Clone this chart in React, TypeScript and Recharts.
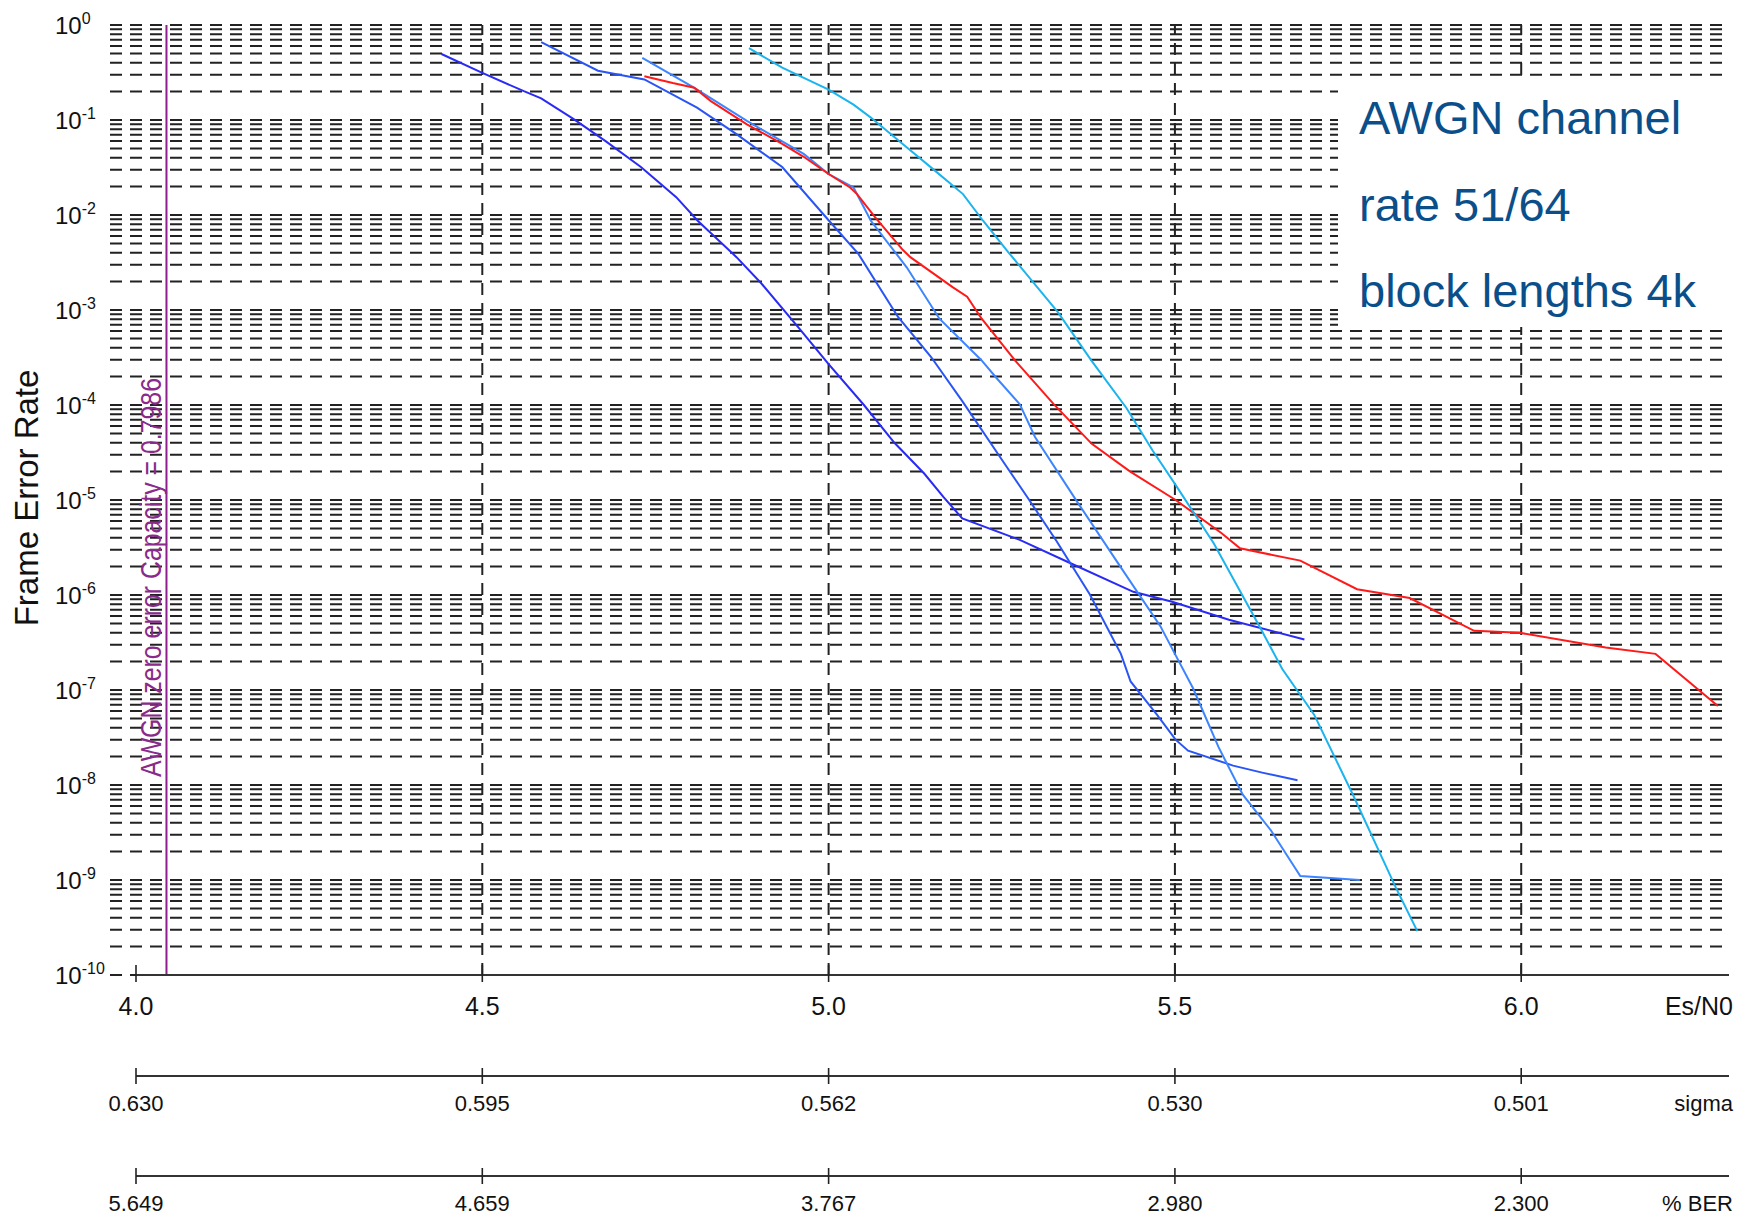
import React from 'react';
import { LineChart, Line, XAxis, YAxis, CartesianGrid, ReferenceLine } from 'recharts';

// ---- tick labels / axes ----
const esn0Ticks = [4.0, 4.5, 5.0, 5.5, 6.0];
const esn0Labels = ['4.0', '4.5', '5.0', '5.5', '6.0'];
const sigmaLabels = ['0.630', '0.595', '0.562', '0.530', '0.501'];
const berLabels = ['5.649', '4.659', '3.767', '2.980', '2.300'];
const decadeExponents = [-1, -2, -3, -4, -5, -6, -7, -8, -9, -10];
const mantissas = [1, 2, 3, 4, 5, 6, 7, 8, 9];
const capacityEsN0 = 4.044;
const capacityText = 'AWGN zero error Capacity = 0.7986';
const noteLines = ['AWGN channel', 'rate 51/64', 'block lengths 4k'];

// ---- series (Es/N0, frame error rate) ----
const curveA = [
  { es: 4.441, fer: 0.495 }, { es: 4.5, fer: 0.313 }, { es: 4.56, fer: 0.201 },
  { es: 4.585, fer: 0.169 }, { es: 4.632, fer: 0.102 }, { es: 4.678, fer: 0.06 },
  { es: 4.729, fer: 0.032 }, { es: 4.78, fer: 0.0154 }, { es: 4.811, fer: 0.0087 },
  { es: 4.867, fer: 0.0036 }, { es: 4.903, fer: 0.0019 }, { es: 4.959, fer: 6.2e-4 },
  { es: 5.0, fer: 2.7e-4 }, { es: 5.051, fer: 1.0e-4 }, { es: 5.095, fer: 4.0e-5 },
  { es: 5.138, fer: 1.9e-5 }, { es: 5.166, fer: 1.07e-5 }, { es: 5.193, fer: 6.4e-6 },
  { es: 5.276, fer: 3.8e-6 }, { es: 5.347, fer: 2.2e-6 }, { es: 5.44, fer: 1.08e-6 },
  { es: 5.496, fer: 8.5e-7 }, { es: 5.578, fer: 5.5e-7 }, { es: 5.687, fer: 3.4e-7 },
];
const curveB = [
  { es: 4.585, fer: 0.66 }, { es: 4.667, fer: 0.33 }, { es: 4.734, fer: 0.267 },
  { es: 4.81, fer: 0.135 }, { es: 4.867, fer: 0.071 }, { es: 4.933, fer: 0.032 },
  { es: 5.0, fer: 0.0088 }, { es: 5.043, fer: 0.0039 }, { es: 5.1, fer: 8.5e-4 },
  { es: 5.148, fer: 3.2e-4 }, { es: 5.193, fer: 1.1e-4 }, { es: 5.248, fer: 2.8e-5 },
  { es: 5.287, fer: 1.07e-5 }, { es: 5.329, fer: 3.7e-6 }, { es: 5.377, fer: 1.02e-6 },
  { es: 5.422, fer: 2.4e-7 }, { es: 5.436, fer: 1.23e-7 }, { es: 5.474, fer: 5.5e-8 },
  { es: 5.501, fer: 3.0e-8 }, { es: 5.519, fer: 2.3e-8 }, { es: 5.584, fer: 1.6e-8 },
  { es: 5.626, fer: 1.35e-8 }, { es: 5.677, fer: 1.12e-8 },
];
const curveC = [
  { es: 4.731, fer: 0.45 }, { es: 4.805, fer: 0.22 }, { es: 4.882, fer: 0.098 },
  { es: 4.964, fer: 0.044 }, { es: 5.0, fer: 0.027 }, { es: 5.036, fer: 0.0195 },
  { es: 5.061, fer: 0.0087 }, { es: 5.113, fer: 0.0028 }, { es: 5.16, fer: 8.1e-4 },
  { es: 5.22, fer: 3.0e-4 }, { es: 5.243, fer: 1.9e-4 }, { es: 5.276, fer: 1.02e-4 },
  { es: 5.298, fer: 4.6e-5 }, { es: 5.358, fer: 9.8e-6 }, { es: 5.419, fer: 2.1e-6 },
  { es: 5.479, fer: 4.7e-7 }, { es: 5.5, fer: 2.4e-7 }, { es: 5.526, fer: 1.05e-7 },
  { es: 5.563, fer: 2.5e-8 }, { es: 5.598, fer: 7.9e-9 }, { es: 5.639, fer: 3.3e-9 },
  { es: 5.681, fer: 1.1e-9 }, { es: 5.767, fer: 1.0e-9 },
];
const curveRed = [
  { es: 4.734, fer: 0.289 }, { es: 4.775, fer: 0.245 }, { es: 4.806, fer: 0.219 },
  { es: 4.83, fer: 0.158 }, { es: 4.882, fer: 0.09 }, { es: 4.933, fer: 0.056 },
  { es: 4.964, fer: 0.041 }, { es: 5.0, fer: 0.027 }, { es: 5.031, fer: 0.0195 },
  { es: 5.041, fer: 0.0166 }, { es: 5.067, fer: 0.0095 }, { es: 5.107, fer: 0.0043 },
  { es: 5.118, fer: 0.0036 }, { es: 5.179, fer: 0.00174 }, { es: 5.2, fer: 0.00138 },
  { es: 5.221, fer: 8.1e-4 }, { es: 5.27, fer: 2.9e-4 }, { es: 5.325, fer: 1.02e-4 },
  { es: 5.38, fer: 3.9e-5 }, { es: 5.435, fer: 2.0e-5 }, { es: 5.501, fer: 1.0e-5 },
  { es: 5.567, fer: 4.5e-6 }, { es: 5.594, fer: 3.1e-6 }, { es: 5.681, fer: 2.3e-6 },
  { es: 5.763, fer: 1.15e-6 }, { es: 5.839, fer: 9.3e-7 }, { es: 5.932, fer: 4.2e-7 },
  { es: 5.998, fer: 4.0e-7 }, { es: 6.122, fer: 2.8e-7 }, { es: 6.194, fer: 2.4e-7 },
  { es: 6.284, fer: 6.8e-8 },
];
const curveCyan = [
  { es: 4.885, fer: 0.57 }, { es: 4.933, fer: 0.355 }, { es: 5.0, fer: 0.209 },
  { es: 5.036, fer: 0.145 }, { es: 5.061, fer: 0.106 }, { es: 5.107, fer: 0.056 },
  { es: 5.153, fer: 0.0295 }, { es: 5.194, fer: 0.0166 }, { es: 5.223, fer: 0.0087 },
  { es: 5.259, fer: 0.0041 }, { es: 5.331, fer: 9.5e-4 }, { es: 5.38, fer: 2.9e-4 },
  { es: 5.43, fer: 9.3e-5 }, { es: 5.468, fer: 3.3e-5 }, { es: 5.5, fer: 1.48e-5 },
  { es: 5.556, fer: 3.5e-6 }, { es: 5.622, fer: 4.7e-7 }, { es: 5.655, fer: 1.66e-7 },
  { es: 5.701, fer: 5.5e-8 }, { es: 5.757, fer: 7.9e-9 }, { es: 5.819, fer: 8.3e-10 },
  { es: 5.85, fer: 2.9e-10 },
];

const gridTicks = [1, ...decadeExponents.flatMap((k) => mantissas.map((m) => Number((m * Math.pow(10, k)).toPrecision(3))))];

const FONT = '"Liberation Sans", Arial, Helvetica, sans-serif';
const INK = '#111';

const YTick = (props: any) => {
  const { x, y, payload } = props;
  const v = payload.value;
  const e = Math.log10(v);
  const r = Math.round(e);
  if (Math.abs(e - r) > 1e-6) return <g />;
  return (
    <text x={x - 81} y={y + 8.5} fontSize={24} fill={INK} fontFamily={FONT}>
      <tspan>10</tspan>
      <tspan dy={-10} fontSize={16}>{String(r)}</tspan>
    </text>
  );
};

const makeXTick = (labels: string[], fontSize: number, dyText: number, up: number, down: number) => (props: any) => {
  const { x, y, payload } = props;
  const i = esn0Ticks.indexOf(payload.value);
  return (
    <g>
      <line x1={x} x2={x} y1={y - up} y2={y + down} stroke="#222" strokeWidth={1.6} />
      <text x={x} y={y + dyText} textAnchor="middle" fontSize={fontSize} fill={INK} fontFamily={FONT}>
        {i >= 0 ? labels[i] : ''}
      </text>
    </g>
  );
};

const MainTick = makeXTick(esn0Labels, 25, 40, 10, 7);
const SigmaTick = makeXTick(sigmaLabels, 22, 35, 8, 8);
const BerTick = makeXTick(berLabels, 22, 35, 8, 8);

const AxisName = (props: any) => {
  const { viewBox, text, dy, size } = props;
  if (!viewBox) return null;
  return (
    <text x={viewBox.x + viewBox.width + 4} y={viewBox.y + dy} textAnchor="end" fontSize={size} fill={INK} fontFamily={FONT}>
      {text}
    </text>
  );
};

const YName = (props: any) => {
  const { viewBox } = props;
  if (!viewBox) return null;
  const cx = 38;
  const cy = viewBox.y + viewBox.height / 2 - 2;
  return (
    <text transform={`translate(${cx},${cy}) rotate(-90)`} textAnchor="middle" fontSize={33} fill={INK} fontFamily={FONT}>
      Frame Error Rate
    </text>
  );
};

const CapacityLabel = (props: any) => {
  const { viewBox } = props;
  if (!viewBox) return null;
  return (
    <text
      transform={`translate(${viewBox.x - 5},${viewBox.y + 752}) rotate(-90)`}
      textAnchor="start"
      fontSize={29}
      textLength={399}
      lengthAdjust="spacingAndGlyphs"
      fill="#8a2a8a"
      fontFamily={FONT}
    >
      {capacityText}
    </text>
  );
};

const axisCommon = {
  type: 'number' as const,
  dataKey: 'es',
  domain: [4, 6.3] as [number, number],
  allowDataOverflow: true,
  ticks: esn0Ticks,
  interval: 0 as const,
  tickSize: 0,
  tickMargin: 0,
  tickLine: false,
  axisLine: { stroke: '#333', strokeWidth: 2 },
};

export default function App() {
  return (
    <div style={{ position: 'absolute', left: 0, top: 0, width: 1753, height: 1217, background: '#fff' }}>
      <LineChart width={1753} height={1217} margin={{ top: 25, right: 24, bottom: 0, left: 0 }}>
        <CartesianGrid
          vertical={false}
          x={110}
          width={1619}
          horizontalValues={gridTicks}
          stroke="#222"
          strokeWidth={2}
          strokeDasharray="12 8"
        />
        <XAxis
          {...axisCommon}
          xAxisId={0}
          height={101}
          tick={<MainTick />}
          label={<AxisName text="Es/N0" dy={40} size={25} />}
        />
        <XAxis
          {...axisCommon}
          xAxisId={1}
          height={100}
          tick={<SigmaTick />}
          label={<AxisName text="sigma" dy={35} size={22} />}
        />
        <XAxis
          {...axisCommon}
          xAxisId={2}
          height={41}
          tick={<BerTick />}
          label={<AxisName text="% BER" dy={35} size={22} />}
        />
        <YAxis
          type="number"
          scale="log"
          domain={[1e-10, 1]}
          allowDataOverflow
          ticks={gridTicks}
          interval={0}
          width={136}
          tickSize={0}
          tickMargin={0}
          axisLine={false}
          tickLine={false}
          tick={<YTick />}
          label={<YName />}
        />
        {esn0Ticks.slice(1).map((t) => (
          <ReferenceLine key={t} x={t} stroke="#222" strokeWidth={2} strokeDasharray="12 8" />
        ))}
        <ReferenceLine x={capacityEsN0} stroke="#8e1e8e" strokeWidth={2} label={<CapacityLabel />} />
        {/* the sigma and %BER scales are alternative labellings of the same Es/N0 values */}
        <Line xAxisId={1} data={curveRed} dataKey="fer" stroke="none" strokeWidth={0} dot={false} activeDot={false} legendType="none" isAnimationActive={false} />
        <Line xAxisId={2} data={curveRed} dataKey="fer" stroke="none" strokeWidth={0} dot={false} activeDot={false} legendType="none" isAnimationActive={false} />
        <Line data={curveA} dataKey="fer" stroke="#2a2af5" strokeWidth={2} dot={false} isAnimationActive={false} />
        <Line data={curveB} dataKey="fer" stroke="#2a55f5" strokeWidth={2} dot={false} isAnimationActive={false} />
        <Line data={curveC} dataKey="fer" stroke="#3d85ff" strokeWidth={2} dot={false} isAnimationActive={false} />
        <Line data={curveRed} dataKey="fer" stroke="#ff1a1a" strokeWidth={2} dot={false} isAnimationActive={false} />
        <Line data={curveCyan} dataKey="fer" stroke="#1cb4ee" strokeWidth={2} dot={false} isAnimationActive={false} />
      </LineChart>
      <div
        style={{
          position: 'absolute',
          left: 1338,
          top: 82,
          width: 415,
          height: 245,
          background: '#fff',
          fontFamily: FONT,
          fontSize: 47,
          lineHeight: '47px',
          color: '#0b4f8a',
        }}
      >
        {noteLines.map((t, i) => (
          <div key={t} style={{ position: 'absolute', left: 21, top: 12 + i * 86.7, whiteSpace: 'nowrap' }}>
            {t}
          </div>
        ))}
      </div>
    </div>
  );
}
